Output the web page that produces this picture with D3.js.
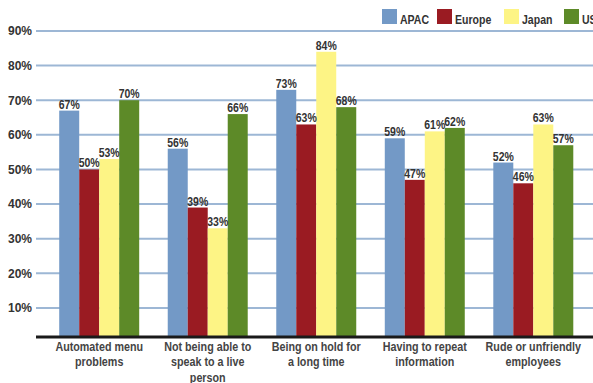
<!DOCTYPE html>
<html>
<head>
<meta charset="utf-8">
<script src="https://cdn.jsdelivr.net/npm/d3@7"></script>
<style>
  body { margin: 0; background: #fff; }
  svg { display: block; }
</style>
</head>
<body>
<div id="chart"></div>
<script>
// chart data
const categories = [
  "Automated menu|problems",
  "Not being able to|speak to a live|person",
  "Being on hold for|a long time",
  "Having to repeat|information",
  "Rude or unfriendly|employees"
];
const seriesNames = ["APAC", "Europe", "Japan", "US"];
const apac   = [67, 56, 73, 59, 52];
const europe = [50, 39, 63, 47, 46];
const japan  = [53, 33, 84, 61, 63];
const us     = [70, 66, 68, 62, 57];
const yTicks = [10, 20, 30, 40, 50, 60, 70, 80, 90];

const colors = ["#7399c6", "#9a1b22", "#fdf485", "#5d8a28"];
const allSeries = [apac, europe, japan, us];

const width = 593, height = 383;
const base = 337;   // axis line
const font = "'Liberation Sans', Arial, sans-serif";

const svg = d3.select("#chart")
  .append("svg")
  .attr("width", width)
  .attr("height", height);

// scales
const yScale = d3.scaleLinear()
  .domain([1.6, 90])
  .range([base, 31]);

const x0 = d3.scaleBand()
  .domain(d3.range(categories.length))
  .range([45, 587.5])
  .paddingInner(0.263)
  .paddingOuter(0.131);

const x1 = d3.scaleBand()
  .domain(d3.range(seriesNames.length))
  .range([0, x0.bandwidth()]);

// gridlines
svg.append("g")
  .selectAll("line")
  .data(yTicks)
  .enter()
  .append("line")
    .attr("x1", 36)
    .attr("x2", width)
    .attr("y1", d => yScale(d))
    .attr("y2", d => yScale(d))
    .attr("stroke", "#9db7d5")
    .attr("stroke-width", 2);

// y tick labels
svg.append("g")
  .selectAll("text")
  .data(yTicks)
  .enter()
  .append("text")
    .attr("x", 32)
    .attr("y", d => yScale(d))
    .attr("dy", "0.36em")
    .attr("text-anchor", "end")
    .attr("font-family", font)
    .attr("font-weight", "bold")
    .attr("font-size", 12)
    .attr("fill", "#333")
    .text(d => d + "%");

// bars
const groups = svg.append("g")
  .selectAll("g")
  .data(categories.map((c, i) => allSeries.map((s, j) => ({cat: i, ser: j, v: s[i]}))))
  .enter()
  .append("g")
    .attr("transform", (d, i) => `translate(${x0(i)},0)`);

groups.selectAll("rect")
  .data(d => d)
  .enter()
  .append("rect")
    .attr("x", d => x1(d.ser))
    .attr("y", d => yScale(d.v))
    .attr("width", x1.bandwidth())
    .attr("height", d => base - yScale(d.v))
    .attr("fill", d => colors[d.ser]);

// value labels (squeezed to look like a narrow face)
groups.selectAll("text")
  .data(d => d)
  .enter()
  .append("text")
    .attr("transform", d => `translate(${x1(d.ser) + x1.bandwidth() / 2},${yScale(d.v) - 2}) scale(0.84,1)`)
    .attr("text-anchor", "middle")
    .attr("font-family", font)
    .attr("font-weight", "bold")
    .attr("font-size", 12.5)
    .attr("fill", "#333")
    .text(d => d.v + "%");

// axis line
svg.append("line")
  .attr("x1", 36)
  .attr("x2", width)
  .attr("y1", base)
  .attr("y2", base)
  .attr("stroke", "#1a1a1a")
  .attr("stroke-width", 3);

// category labels
const catLabels = svg.append("g")
  .selectAll("text")
  .data(categories)
  .enter()
  .append("text")
    .attr("transform", (d, i) => `translate(${x0(i) + x0.bandwidth() / 2},351) scale(0.86,1)`)
    .attr("text-anchor", "middle")
    .attr("font-family", font)
    .attr("font-weight", "bold")
    .attr("font-size", 12.5)
    .attr("fill", "#444");

catLabels.selectAll("tspan")
  .data(d => d.split("|"))
  .enter()
  .append("tspan")
    .attr("x", 0)
    .attr("y", (d, k) => k * 15.5)
    .text(d => d);

// legend
const legendX = [382, 437, 504, 564];
const legend = svg.append("g")
  .selectAll("g")
  .data(seriesNames)
  .enter()
  .append("g")
    .attr("transform", (d, i) => `translate(${legendX[i]},9)`);

legend.append("rect")
  .attr("width", 15)
  .attr("height", 15)
  .attr("fill", (d, i) => colors[i]);

legend.append("text")
  .attr("transform", "translate(18,15) scale(0.78,1)")
  .attr("font-family", font)
  .attr("font-weight", "bold")
  .attr("font-size", 13.5)
  .attr("fill", "#333")
  .text(d => d);
</script>
</body>
</html>
